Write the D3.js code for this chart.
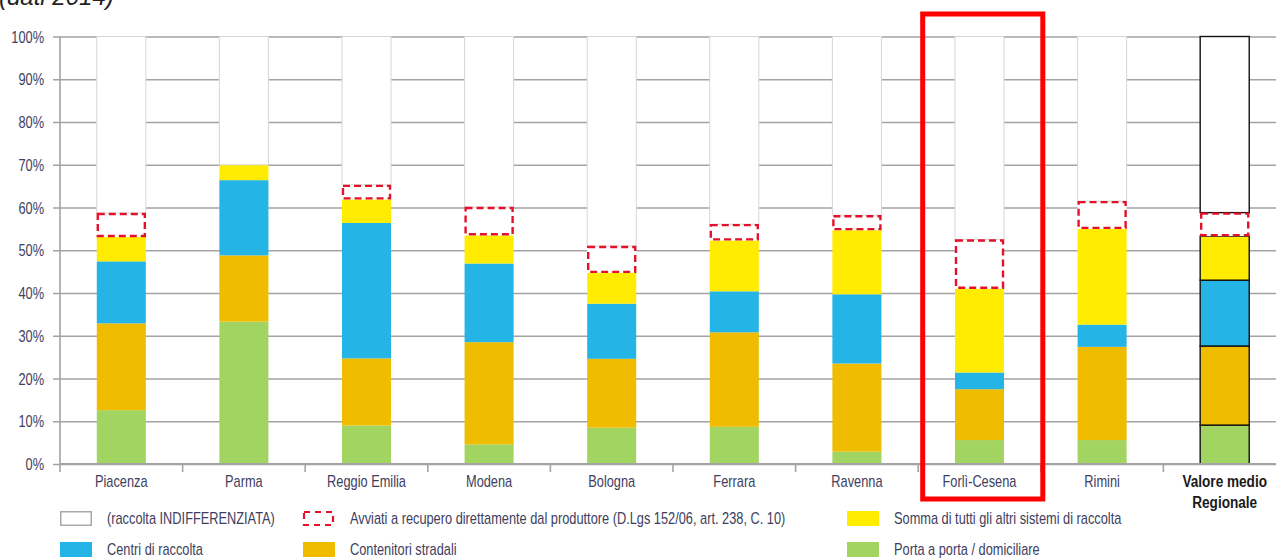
<!DOCTYPE html>
<html>
<head>
<meta charset="utf-8">
<script src="https://cdn.jsdelivr.net/npm/d3@7"></script>
<style>
  html, body { margin: 0; padding: 0; background: #fff; overflow: hidden; }
  svg { display: block; }
  text { font-family: "Liberation Sans", Arial, sans-serif; }
</style>
</head>
<body>
<svg id="chart" width="1276" height="559"></svg>
<script>
// ---------- DATA ----------
const categories = ["Piacenza", "Parma", "Reggio Emilia", "Modena", "Bologna", "Ferrara", "Ravenna", "Forlì-Cesena", "Rimini", "Valore medio Regionale"];
const portaAPorta      = [12.6, 33.3,  9.0,  4.6,  8.5,  8.7,  2.9,  5.6,  5.6,  9.1];
const contenitori      = [20.3, 15.5, 15.7, 23.9, 16.1, 22.1, 20.6, 11.9, 21.8, 18.5];
const centriRaccolta   = [14.5, 17.6, 31.7, 18.4, 12.9,  9.6, 16.2,  3.9,  5.2, 15.4];
const altriSistemi     = [ 5.7,  3.6,  5.5,  6.6,  7.2, 11.9, 15.0, 19.6, 22.4, 10.3];
const avviatiRecupero  = [ 5.6,  0.0,  3.4,  6.6,  6.3,  3.8,  3.5, 11.5,  6.5,  5.5];
const yTicks = [0, 10, 20, 30, 40, 50, 60, 70, 80, 90, 100];
const legendLabels = [
  "(raccolta INDIFFERENZIATA)",
  "Avviati a recupero direttamente dal produttore (D.Lgs 152/06, art. 238, C. 10)",
  "Somma di tutti gli altri sistemi di raccolta",
  "Centri di raccolta",
  "Contenitori stradali",
  "Porta a porta / domiciliare"
];
const titleText = "(dati 2014)";
const highlighted = "Forlì-Cesena";
const regionalCategory = "Valore medio Regionale";
const regionalLines = ["Valore medio", "Regionale"];

// ---------- STYLES ----------
const keys = ["porta", "contenitori", "centri", "altri", "avviati", "indiff"];
const colors = {
  porta: "#a2d461",
  contenitori: "#efbc00",
  centri: "#25b4e6",
  altri: "#ffec00",
  avviati: "#ffffff",
  indiff: "#ffffff"
};
const textColor = "#3e3e5e";
const gridColor = "#a3a3a3";
const narrow = 0.8; // horizontal compression to mimic a condensed face

function narrowText(parent, x, y, str, size, anchor, fill, weight) {
  return parent.append("text")
    .attr("transform", `translate(${x},${y}) scale(${narrow},1)`)
    .attr("text-anchor", anchor || "start")
    .attr("font-size", size)
    .attr("font-weight", weight || "normal")
    .attr("fill", fill || textColor)
    .text(str);
}

// build table
const table = categories.map((c, i) => {
  const row = {
    cat: c,
    porta: portaAPorta[i],
    contenitori: contenitori[i],
    centri: centriRaccolta[i],
    altri: altriSistemi[i],
    avviati: avviatiRecupero[i]
  };
  row.indiff = 100 - (row.porta + row.contenitori + row.centri + row.altri + row.avviati);
  return row;
});

const svg = d3.select("#chart");
const plotLeft = 60, plotRight = 1286, plotTop = 36.5, plotBottom = 464;

const x = d3.scaleBand().domain(categories).range([plotLeft, plotRight]).paddingInner(0.6).paddingOuter(0.3);
const y = d3.scaleLinear().domain([0, 100]).range([plotBottom, plotTop]);

// title fragment (clipped at top, as in the reference)
svg.append("text")
  .attr("x", -1).attr("y", 5)
  .attr("font-size", 24)
  .attr("font-style", "italic")
  .attr("fill", "#222")
  .text(titleText);

// gridlines + y axis
const yAxis = d3.axisLeft(y)
  .tickValues(yTicks)
  .tickSize(-(1276 - plotLeft) - 10)
  .tickFormat(d => d + "%");
const gy = svg.append("g").attr("transform", `translate(${plotLeft},0)`).call(yAxis);
gy.select(".domain").remove();
gy.selectAll(".tick line").attr("stroke", gridColor).attr("stroke-width", 1.6).attr("x1", -7);
gy.selectAll(".tick text").remove();
gy.selectAll(".tick").each(function(d) {
  narrowText(d3.select(this), -16, 5.5, d + "%", 16, "end");
});
svg.append("line")
  .attr("x1", plotLeft).attr("x2", plotLeft)
  .attr("y1", y(100)).attr("y2", plotBottom)
  .attr("stroke", gridColor).attr("stroke-width", 1.6);

// bars
const stack = d3.stack().keys(keys);
const series = stack(table);
const bw = x.bandwidth();

const gBars = svg.append("g");
series.forEach(s => {
  const key = s.key;
  gBars.selectAll(null)
    .data(s.filter(d => d[1] - d[0] > 0))
    .enter().append("rect")
    .attr("x", d => x(d.data.cat))
    .attr("width", bw)
    .attr("y", d => y(d[1]))
    .attr("height", d => y(d[0]) - y(d[1]))
    .attr("fill", colors[key])
    .attr("stroke", d => {
      if (d.data.cat === regionalCategory) return key === "avviati" ? "none" : "#111";
      if (key === "indiff") return "#d6d6d6";
      return "none";
    })
    .attr("stroke-width", d => d.data.cat === regionalCategory ? 1.4 : 1);
});
// dashed "avviati" boxes
gBars.selectAll(null)
  .data(series.find(s => s.key === "avviati").filter(d => d[1] - d[0] > 0))
  .enter().append("rect")
  .attr("x", d => x(d.data.cat) + 1)
  .attr("width", bw - 2)
  .attr("y", d => y(d[1]) + 1)
  .attr("height", d => y(d[0]) - y(d[1]) - 2)
  .attr("fill", "none")
  .attr("stroke", "#e3122a")
  .attr("stroke-width", 2.4)
  .attr("stroke-dasharray", "7,4");

// x axis
const step = x.step();
const boundaries = d3.range(categories.length + 1).map(i => plotLeft + i * step);
svg.append("line")
  .attr("x1", plotLeft).attr("x2", 1276)
  .attr("y1", plotBottom).attr("y2", plotBottom)
  .attr("stroke", gridColor).attr("stroke-width", 1.8);
svg.selectAll(null).data(boundaries).enter().append("line")
  .attr("x1", d => d).attr("x2", d => d)
  .attr("y1", plotBottom).attr("y2", plotBottom + 8)
  .attr("stroke", gridColor).attr("stroke-width", 1.6);

categories.forEach(c => {
  const cx = x(c) + bw / 2;
  if (c === regionalCategory) {
    narrowText(svg, cx, 487, regionalLines[0], 17, "middle", "#1a1a1a", "bold");
    narrowText(svg, cx, 508, regionalLines[1], 17, "middle", "#1a1a1a", "bold");
  } else {
    narrowText(svg, cx, 487, c, 16, "middle");
  }
});

// highlight rectangle
const hx0 = boundaries[7] + 4.5;
svg.append("rect")
  .attr("x", hx0)
  .attr("y", 14)
  .attr("width", boundaries[8] + 2 - hx0)
  .attr("height", 485)
  .attr("fill", "none")
  .attr("stroke", "#ff0000")
  .attr("stroke-width", 5);

// legend
const legendItems = [
  { label: legendLabels[0], key: "indiff", bx: 60, ty: 0 },
  { label: legendLabels[1], key: "avviati", bx: 303, ty: 0 },
  { label: legendLabels[2], key: "altri", bx: 847, ty: 0 },
  { label: legendLabels[3], key: "centri", bx: 60, ty: 1 },
  { label: legendLabels[4], key: "contenitori", bx: 303, ty: 1 },
  { label: legendLabels[5], key: "porta", bx: 847, ty: 1 }
];
const rowY = [511, 542];
const lg = svg.append("g");
legendItems.forEach(it => {
  const by = rowY[it.ty];
  if (it.key === "indiff") {
    lg.append("rect").attr("x", it.bx + 0.75).attr("y", by + 0.75).attr("width", 30.5).attr("height", 13.5)
      .attr("fill", "#fff").attr("stroke", "#a8a8a8").attr("stroke-width", 1.5);
  } else if (it.key === "avviati") {
    lg.append("rect").attr("x", it.bx + 1).attr("y", by + 1).attr("width", 29).attr("height", 13)
      .attr("fill", "none").attr("stroke", "#e3122a").attr("stroke-width", 2.2).attr("stroke-dasharray", "6,5");
  } else {
    lg.append("rect").attr("x", it.bx).attr("y", by).attr("width", 32).attr("height", 15)
      .attr("fill", colors[it.key]);
  }
  narrowText(lg, it.bx + 47, by + 13, it.label, 16);
});
</script>
</body>
</html>
